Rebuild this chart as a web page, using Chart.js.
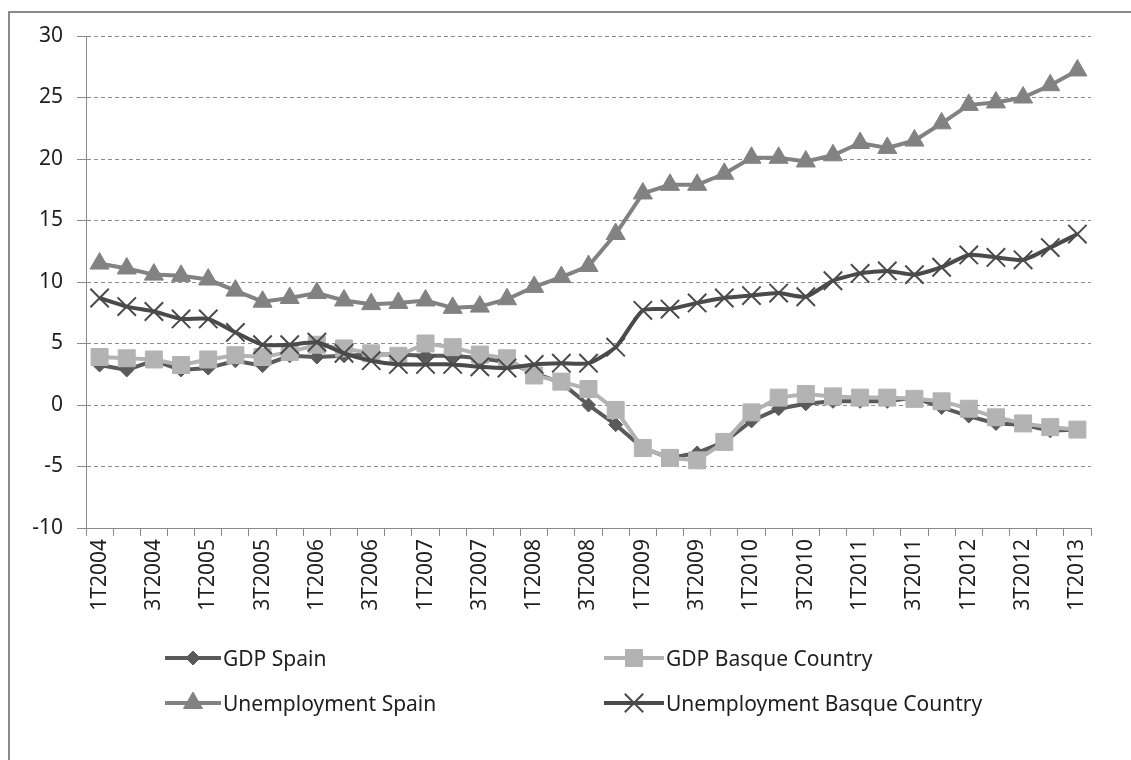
<!DOCTYPE html>
<html>
<head>
<meta charset="utf-8">
<title>GDP and unemployment, Spain and Basque Country</title>
<script src="https://cdn.jsdelivr.net/npm/chart.js@4.4.1/dist/chart.umd.min.js"></script>
<style>
    html, body { margin: 0; padding: 0; background: #fff; overflow: hidden; }
    #frame {
        position: absolute; left: 8px; top: 11px; width: 1200px; height: 800px;
        border-left: 2px solid #8a8a8a; border-top: 2px solid #8a8a8a;
    }
    #chart { position: absolute; left: 0; top: 0; }
    .legend_item {
        position: absolute; height: 24px; display: flex; align-items: center;
        font-family: "Noto Sans", sans-serif; font-size: 21px; color: #1e1e1e; white-space: nowrap;
    }
    .legend_item canvas { margin-right: 2px; }
</style>
</head>
<body>
<div id="frame"></div>
<canvas id="chart" width="1131" height="760"></canvas>
<div id="legend"></div>

<script>
// Quarterly series, 1T2004 .. 1T2013
const quarters = [
    "1T2004", "2T2004", "3T2004", "4T2004",
    "1T2005", "2T2005", "3T2005", "4T2005",
    "1T2006", "2T2006", "3T2006", "4T2006",
    "1T2007", "2T2007", "3T2007", "4T2007",
    "1T2008", "2T2008", "3T2008", "4T2008",
    "1T2009", "2T2009", "3T2009", "4T2009",
    "1T2010", "2T2010", "3T2010", "4T2010",
    "1T2011", "2T2011", "3T2011", "4T2011",
    "1T2012", "2T2012", "3T2012", "4T2012",
    "1T2013"
];

const gdp_spain = [3.25, 2.85, 3.6, 2.85, 3.0, 3.6, 3.2, 4.0, 3.9, 4.0, 4.1, 4.1, 4.0, 4.0, 3.8, 3.5,
    2.6, 1.8, 0.0, -1.6, -3.5, -4.3, -3.9, -3.0, -1.3, -0.3, 0.1, 0.3, 0.3, 0.3, 0.6, -0.2,
    -0.9, -1.5, -1.6, -2.1, -2.0];

const gdp_basque = [3.9, 3.8, 3.7, 3.25, 3.7, 4.05, 3.9, 4.3, 4.9, 4.6, 4.2, 4.0, 5.0, 4.7, 4.1, 3.8,
    2.4, 1.9, 1.3, -0.4, -3.5, -4.3, -4.5, -3.0, -0.6, 0.6, 0.9, 0.7, 0.6, 0.6, 0.5, 0.3,
    -0.3, -1.0, -1.5, -1.8, -2.0];

const unemp_spain = [11.5, 11.1, 10.6, 10.5, 10.2, 9.3, 8.4, 8.7, 9.1, 8.5, 8.2, 8.3, 8.5, 7.9, 8.0, 8.6,
    9.6, 10.4, 11.3, 13.9, 17.2, 17.9, 17.9, 18.8, 20.1, 20.1, 19.8, 20.3, 21.3, 20.9, 21.5, 22.9,
    24.4, 24.6, 25.0, 26.0, 27.2];

const unemp_basque = [8.7, 8.0, 7.6, 7.0, 7.0, 5.9, 4.9, 4.9, 5.1, 4.2, 3.6, 3.3, 3.3, 3.3, 3.1, 3.0,
    3.3, 3.4, 3.4, 4.7, 7.7, 7.8, 8.3, 8.7, 8.9, 9.1, 8.8, 10.1, 10.7, 10.9, 10.6, 11.2,
    12.2, 12.0, 11.8, 12.8, 13.9];

const y_ticks = [-10, -5, 0, 5, 10, 15, 20, 25, 30];

const series = [
    { label: "GDP Spain", data: gdp_spain, color: "#5a5a5a", point: "rectRot", radius: 7, pointWidth: 1, order: 3 },
    { label: "GDP Basque Country", data: gdp_basque, color: "#b3b3b3", point: "rect", radius: 12, pointWidth: 1, order: 1 },
    { label: "Unemployment Spain", data: unemp_spain, color: "#828282", point: "triangle", radius: 11, pointWidth: 1, order: 2 },
    { label: "Unemployment Basque Country", data: unemp_basque, color: "#4a4a4a", point: "crossRot", radius: 13, pointWidth: 2, order: 0 }
];

const label_font = "Noto Sans";

new Chart(document.getElementById("chart"), {
    type: "line",
    data: {
        labels: quarters,
        datasets: series.map(s => ({
            label: s.label,
            data: s.data,
            order: s.order,
            borderColor: s.color,
            backgroundColor: s.color,
            borderWidth: 4,
            tension: s.point === "crossRot" ? 0.2 : 0,
            pointStyle: s.point,
            pointRadius: s.radius,
            pointHoverRadius: s.radius,
            pointBorderWidth: s.pointWidth,
            pointBackgroundColor: s.color,
            pointBorderColor: s.color
        }))
    },
    options: {
        responsive: false,
        devicePixelRatio: 1,
        animation: false,
        layout: { padding: { left: 0, top: 36, right: 40, bottom: 132 } },
        plugins: {
            legend: { display: false },
            tooltip: { enabled: false }
        },
        scales: {
            x: {
                offset: true,
                grid: {
                    offset: true,
                    drawOnChartArea: false,
                    drawTicks: true,
                    tickLength: 8,
                    color: "#8a8a8a"
                },
                border: { display: true, color: "#8a8a8a", width: 1 },
                ticks: {
                    autoSkip: false,
                    minRotation: 90,
                    maxRotation: 90,
                    padding: 3,
                    color: "#1e1e1e",
                    font: { family: label_font, size: 21 },
                    callback: function (value, index) {
                        return index % 2 === 0 ? quarters[index] : "";
                    }
                },
                afterFit: function (scale) { scale.height = 100; }
            },
            y: {
                min: -10,
                max: 30,
                afterBuildTicks: function (scale) {
                    scale.ticks = y_ticks.map(v => ({ value: v }));
                },
                grid: {
                    color: "#8c8c8c",
                    lineWidth: 1,
                    drawTicks: true,
                    tickLength: 9,
                    tickColor: "#8a8a8a",
                    tickBorderDash: []
                },
                border: { display: true, color: "#8a8a8a", width: 1, dash: [4, 3] },
                ticks: {
                    padding: 14,
                    color: "#1e1e1e",
                    font: { family: label_font, size: 21 }
                },
                afterFit: function (scale) { scale.width = 86; }
            }
        }
    }
});

// Legend: 2 x 2 grid under the axis, like the spreadsheet original
function draw_legend_marker(canvas, s) {
    const ctx = canvas.getContext("2d");
    const w = canvas.width, h = canvas.height;
    ctx.strokeStyle = s.color;
    ctx.lineWidth = 4;
    ctx.beginPath();
    ctx.moveTo(0, h / 2);
    ctx.lineTo(w, h / 2);
    ctx.stroke();
    ctx.fillStyle = s.color;
    ctx.lineWidth = s.pointWidth;
    Chart.helpers.drawPoint(ctx, { pointStyle: s.point, radius: s.radius, rotation: 0, borderWidth: s.pointWidth }, w / 2, h / 2);
}

const legend_pos = [
    { left: 165, top: 646, width: 56 },
    { left: 604, top: 646, width: 60 },
    { left: 165, top: 691, width: 56 },
    { left: 604, top: 691, width: 60 }
];

const legend = document.getElementById("legend");
series.forEach(function (s, i) {
    const item = document.createElement("div");
    item.className = "legend_item";
    item.style.left = legend_pos[i].left + "px";
    item.style.top = legend_pos[i].top + "px";
    const marker = document.createElement("canvas");
    marker.width = legend_pos[i].width;
    marker.height = 24;
    item.appendChild(marker);
    const text = document.createElement("span");
    text.textContent = s.label;
    item.appendChild(text);
    legend.appendChild(item);
    draw_legend_marker(marker, s);
});
</script>
</body>
</html>
